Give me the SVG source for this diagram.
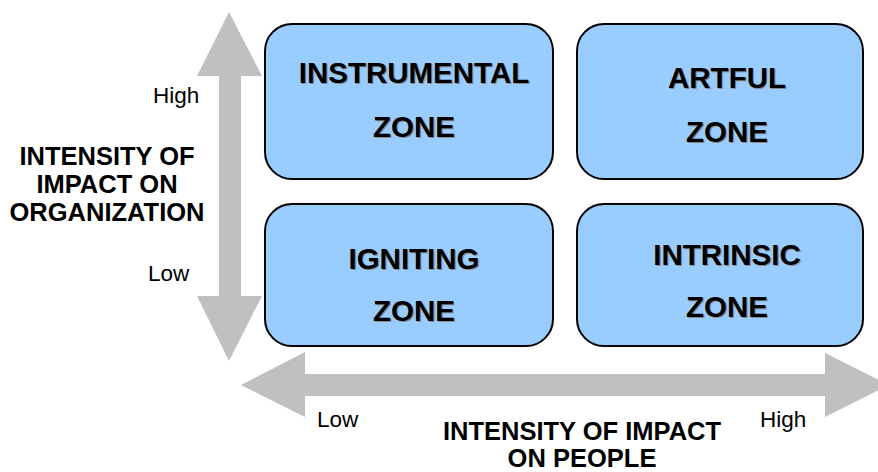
<svg xmlns="http://www.w3.org/2000/svg" width="878" height="472" viewBox="0 0 878 472">
<defs>
<style>
.box{fill:#99CCFF;stroke:#000;stroke-width:2}
.arrow{fill:#C0C0C0}
.zt{font-family:"Liberation Sans",Arial,sans-serif;font-weight:bold;font-size:29.5px;text-anchor:middle;fill:#000}
.zs{font-family:"Liberation Sans",Arial,sans-serif;font-weight:bold;font-size:29.5px;text-anchor:middle;fill:#8a8a8a}
.ax{font-family:"Liberation Sans",Arial,sans-serif;font-weight:bold;font-size:25.5px;text-anchor:middle;fill:#000}
.lv{font-family:"Liberation Sans",Arial,sans-serif;font-size:22.5px;fill:#000}
</style>
</defs>
<rect width="878" height="472" fill="#fff"/>
<g id="connectors">
<polygon class="arrow" points="229,12 197,76 219,76 219,296 197,296 229,361 262,296 241,296 241,76 262,76"/>
<polygon class="arrow" points="241,385 305,352 305,374 825,374 825,353 889,385 825,417 825,396 305,396 305,417"/>
</g>
<g id="instrumental">
<rect class="box" x="265" y="24" width="288" height="155" rx="27"/>
<text class="zs" x="415.2" y="84.2">INSTRUMENTAL</text>
<text class="zt" x="414" y="83">INSTRUMENTAL</text>
<text class="zs" x="415.2" y="138.2">ZONE</text>
<text class="zt" x="414" y="137">ZONE</text>
</g>
<g id="artful">
<rect class="box" x="577" y="24" width="286" height="155" rx="27"/>
<text class="zs" x="728.2" y="89.2">ARTFUL</text>
<text class="zt" x="727" y="88">ARTFUL</text>
<text class="zs" x="728.2" y="143.2">ZONE</text>
<text class="zt" x="727" y="142">ZONE</text>
</g>
<g id="igniting">
<rect class="box" x="265" y="204" width="288" height="142" rx="27"/>
<text class="zs" x="415.2" y="270.2">IGNITING</text>
<text class="zt" x="414" y="269">IGNITING</text>
<text class="zs" x="415.2" y="322.2">ZONE</text>
<text class="zt" x="414" y="321">ZONE</text>
</g>
<g id="intrinsic">
<rect class="box" x="577" y="204" width="286" height="142" rx="27"/>
<text class="zs" x="728.2" y="266.2">INTRINSIC</text>
<text class="zt" x="727" y="265">INTRINSIC</text>
<text class="zs" x="728.2" y="318.2">ZONE</text>
<text class="zt" x="727" y="317">ZONE</text>
</g>
<g id="labels">
<text class="ax" x="107" y="165">INTENSITY OF</text>
<text class="ax" x="107" y="193">IMPACT ON</text>
<text class="ax" x="107" y="221">ORGANIZATION</text>
<text class="ax" x="582" y="440">INTENSITY OF IMPACT</text>
<text class="ax" x="582" y="467">ON PEOPLE</text>
<text class="lv" x="153" y="103">High</text>
<text class="lv" x="148" y="281">Low</text>
<text class="lv" x="317" y="427">Low</text>
<text class="lv" x="760" y="427">High</text>
</g>
</svg>
